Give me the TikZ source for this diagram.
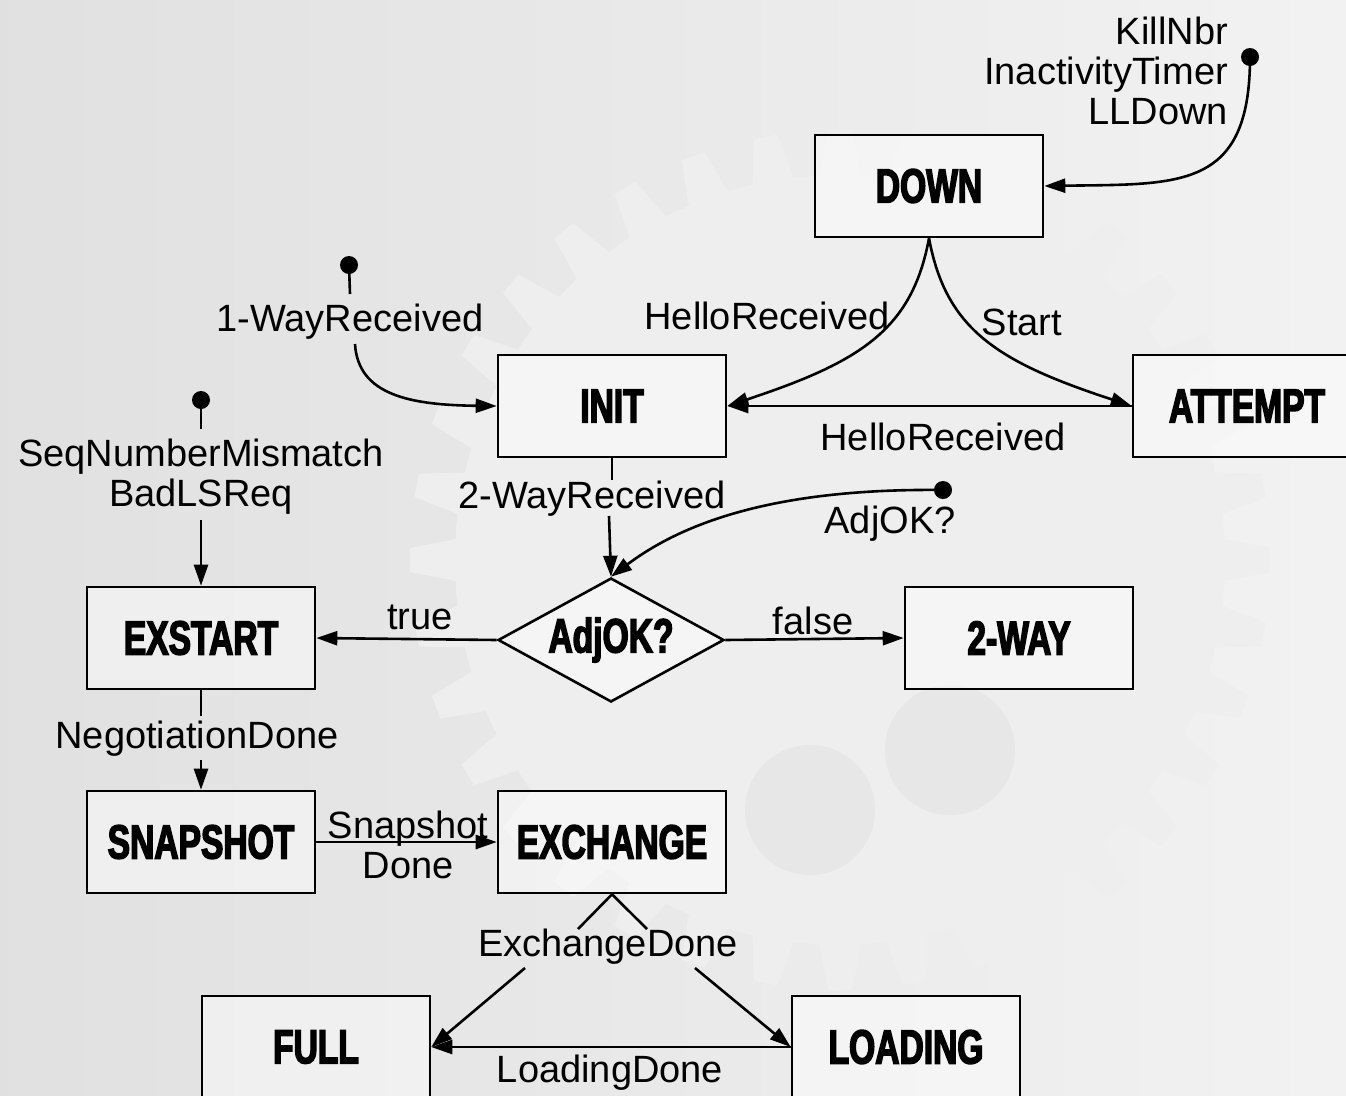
\documentclass[tikz,border=0pt]{standalone}
\usepackage{fontspec}
\setmainfont{Liberation Sans}
\newfontfamily\statefont[FakeStretch=0.70,FakeBold=3]{Liberation Sans Bold}
\usetikzlibrary{shapes.geometric,arrows.meta,calc}

\definecolor{bgleft}{gray}{0.88}
\definecolor{bgright}{gray}{0.95}
\definecolor{gearfill}{gray}{0.935}
\definecolor{gearhole}{gray}{0.905}

\begin{document}
\begin{tikzpicture}[x=1pt,y=-1pt,
  every node/.style={inner sep=0pt},
  state/.style={draw, line width=2.6pt, fill=white, fill opacity=0.45, text opacity=1,
    minimum width=228pt, minimum height=102pt,
    font=\statefont\fontsize{48}{50}\selectfont},
  decision/.style={draw, diamond, line width=2.6pt, fill=white, fill opacity=0.45, text opacity=1,
    minimum width=226pt, minimum height=124pt, aspect=1.8,
    font=\statefont\fontsize{48}{50}\selectfont},
  lbl/.style={font=\fontsize{38}{40}\selectfont, align=center},
  conn/.style={line width=2.6pt},
  arr/.style={conn, -{Triangle[length=21pt,width=14pt]}},
  dot/.style={circle, fill=black, minimum size=18pt}]

% page and faint gear backdrop
\useasboundingbox (0,0) rectangle (1346,1095);
\shade[left color=bgleft, right color=bgright] (0,0) rectangle (1346,1095);
\begin{scope}[shift={(840,560)}]
  \fill[gearfill] (0,0) circle (385);
  \foreach \i in {0,...,35}
    \fill[gearfill] (\i*10-3.2:383) -- (\i*10-1.6:430) -- (\i*10+1.6:430) -- (\i*10+3.2:383) -- cycle;
  \fill[gearhole] (-30,250) circle (65);
  \fill[gearhole] (110,190) circle (65);
\end{scope}

% states
\node[state] (down)     at (929,186)  {DOWN};
\node[state] (init)     at (612,406)  {INIT};
\node[state] (attempt)  at (1247,406) {ATTEMPT};
\node[state] (exstart)  at (201,638)  {EXSTART};
\node[decision] (adj)   at (611,640)  {AdjOK?};
\node[state] (twoway)   at (1019,638) {2-WAY};
\node[state] (snapshot) at (201,842)  {SNAPSHOT};
\node[state] (exchange) at (612,842)  {EXCHANGE};
\node[state] (full)     at (316,1047) {FULL};
\node[state] (loading)  at (906,1047) {LOADING};

% KillNbr / InactivityTimer / LLDown -> DOWN
\node[lbl, align=right, anchor=east] (lkill) at (1228,71) {KillNbr\\InactivityTimer\\LLDown};
\node[dot] (kdot) at (1250,57) {};
\draw[arr] (kdot.center) .. controls (1250,190) and (1180,184) .. (down.east);

% DOWN -> INIT, DOWN -> ATTEMPT, ATTEMPT -> INIT
\draw[arr] (down.south) .. controls (912,330) and (860,362) .. (init.east);
\draw[arr] (down.south) .. controls (946,330) and (998,362) .. (attempt.west);
\draw[arr] (attempt.west) -- (init.east);
\node[lbl] (lhello1) at (767,316) {HelloReceived};
\node[lbl] (lstart)  at (1022,322) {Start};
\node[lbl] (lhello2) at (943,437) {HelloReceived};

% 1-WayReceived -> INIT
\node[dot] (odot) at (349,265) {};
\node[lbl] (l1way) at (350,322) {1-WayReceived};
\coordinate (o1) at (350,294);
\coordinate (o2) at (355,344);
\draw[conn] (odot.center) -- (o1);
\draw[arr] (o2) .. controls (358,395) and (410,405) .. (init.west);

% SeqNumberMismatch / BadLSReq -> EXSTART
\node[dot] (sdot) at (201,400) {};
\node[lbl] (lseq) at (201,477) {SeqNumberMismatch\\BadLSReq};
\coordinate (s1) at (201,429);
\coordinate (s2) at (201,520);
\draw[conn] (sdot.center) -- (s1);
\draw[arr] (s2) -- (exstart.north);

% INIT -> AdjOK?
\node[lbl] (l2way) at (592,499) {2-WayReceived};
\coordinate (w1) at (612,480);
\coordinate (w2) at (609,516);
\draw[conn] (init.south) -- (w1);
\draw[arr] (w2) -- (adj.north);

% AdjOK? event -> decision
\node[dot] (adot) at (943,490) {};
\node[lbl] (ladj) at (890,524) {AdjOK?};
\draw[arr] (adot.center) .. controls (770,488) and (680,525) .. (adj.north);

% decision outcomes
\draw[arr] (adj.west) -- (exstart.east);
\draw[arr] (adj.east) -- (twoway.west);
\node[lbl] (ltrue)  at (420,617) {true};
\node[lbl] (lfalse) at (813,621) {false};

% EXSTART -> SNAPSHOT
\node[lbl] (lneg) at (197,739) {NegotiationDone};
\coordinate (n1) at (201,716);
\coordinate (n2) at (201,760);
\draw[conn] (exstart.south) -- (n1);
\draw[arr] (n2) -- (snapshot.north);

% SNAPSHOT -> EXCHANGE
\draw[arr] (snapshot.east) -- (exchange.west);
\node[lbl] (lsnap) at (408,845) {Snapshot\\Done};

% EXCHANGE -> FULL / LOADING
\node[lbl] (lexd) at (608,947) {ExchangeDone};
\coordinate (e1) at (578,929);
\coordinate (e2) at (647,929);
\coordinate (e3) at (525,968);
\coordinate (e4) at (695,968);
\draw[conn] (exchange.south) -- (e1);
\draw[conn] (exchange.south) -- (e2);
\draw[arr] (e3) -- (full.east);
\draw[arr] (e4) -- (loading.west);

% LOADING -> FULL
\draw[arr] (loading.west) -- (full.east);
\node[lbl] (lload) at (610,1073) {LoadingDone};
\end{tikzpicture}
\end{document}
